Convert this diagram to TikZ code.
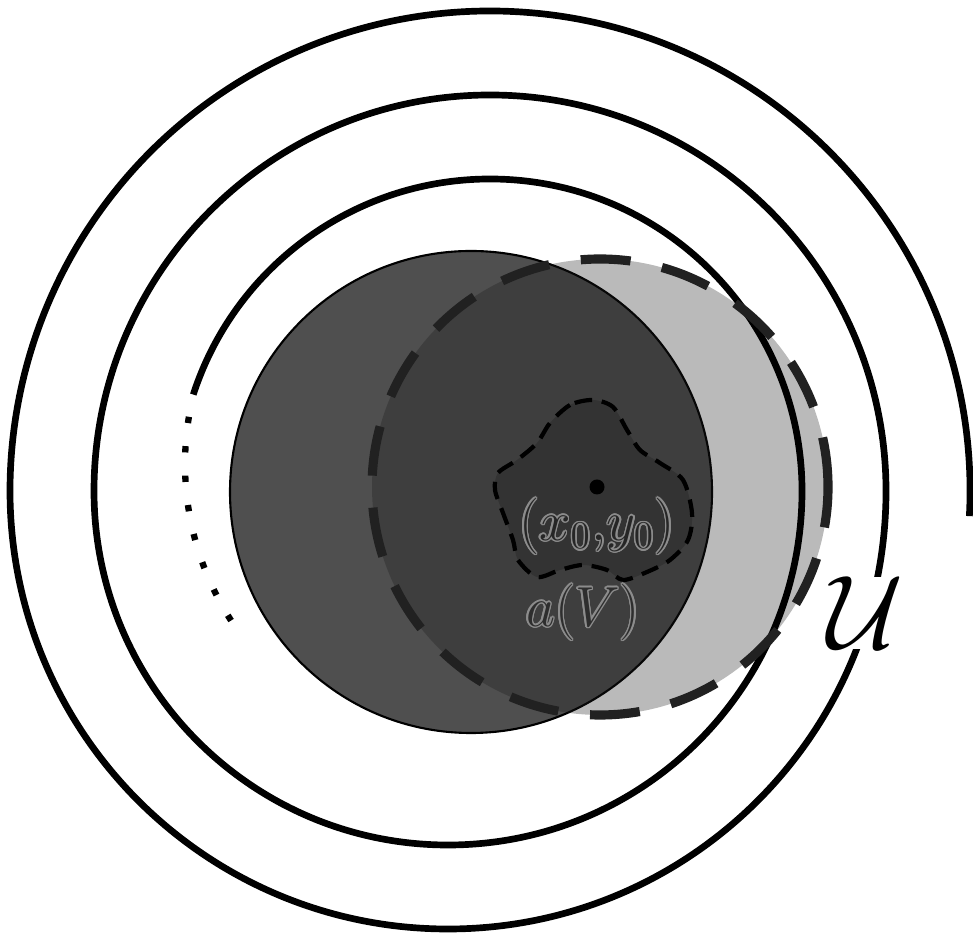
\documentclass[tikz,border=0pt]{standalone}
\usepackage{contour}
\usetikzlibrary{calc}
\contourlength{0.45pt}

\begin{document}
\begin{tikzpicture}[
        x=0.1mm, y=0.1mm,
        spiralline/.style={line width=1.9pt, draw=black},
        dotline/.style={line width=1.8pt, dash pattern=on 1.8pt off 6.6pt},
        diskV/.style={fill=black!69, draw=black, line width=0.6pt},
        diskW/.style={fill=black!90, fill opacity=0.3},
        diskWedge/.style={draw=black!87, line width=2.6pt, dash pattern=on 14.2pt off 9.1pt},
        blob/.style={fill=black!80, draw=black, line width=1.2pt, dash pattern=on 5pt off 2.8pt},
        inlabel/.style={text=black!85, font=\LARGE, scale=0.93, inner sep=0pt}
        ]
\useasboundingbox (0,0) rectangle (973,938);

\coordinate (A) at (490,447);
\coordinate (V) at (471,446);
\coordinate (W) at (600,451);
\coordinate (p0) at (597,451);

% the two disks
\draw[diskV] (V) circle[radius=241];
\fill[diskW] (W) circle[radius=228];

% spiral, made of half circles
\draw[spiralline] ($(A)+(-3:480)$) arc[start angle=-3, end angle=180, radius=480]
                                   arc[start angle=180, end angle=360, radius=438]
                                   arc[start angle=0, end angle=180, radius=396]
                                   arc[start angle=180, end angle=360, radius=354]
                                   arc[start angle=0, end angle=162, radius=312];
\draw[dotline] ($(474,474)+(170.6:289)$) arc[start angle=170.6, end angle=212.8, radius=289];

\draw[diskWedge] (W) circle[radius=228];

% a(V)
\draw[blob] plot[smooth cycle] coordinates {(593,538) (570,533) (550,515) (537,495) (517,478)
    (498,465) (495,448) (503,425) (513,398) (518,378) (537,361) (560,368) (583,373)
    (607,368) (623,358) (647,366) (670,378) (688,398) (692,425) (683,458) (660,475)
    (640,488) (627,508) (613,531)};
\fill (p0) circle[radius=7.5];

\node[inlabel] (pt) at (597,411) {\contour{black!45}{$(x_0{,}y_0)$}};
\node[inlabel, text=black!82] (aV) at (583,325) {\contour{black!45}{$a(V)$}};
\node[fill=white, inner sep=0pt, font=\Huge, scale=1.2] (U) at (866,325) {$\mathcal{U}$};

\end{tikzpicture}
\end{document}
